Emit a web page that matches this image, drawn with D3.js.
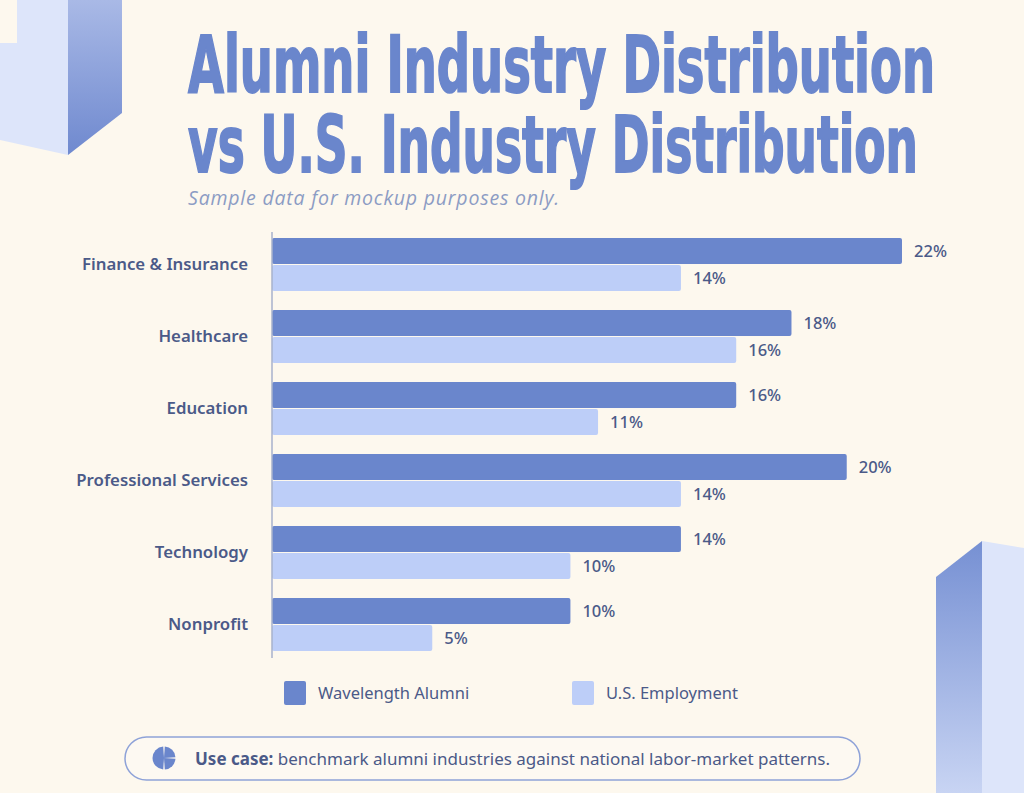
<!DOCTYPE html>
<html>
<head>
<meta charset="utf-8">
<script src="https://cdn.jsdelivr.net/npm/d3@7"></script>
<style>
  html, body { margin: 0; padding: 0; background: #fdf8ee; }
  svg { display: block; }
</style>
</head>
<body>
<svg id="chart" width="1024" height="793"></svg>
<script>
// chart values
var categories = ["Finance & Insurance", "Healthcare", "Education", "Professional Services", "Technology", "Nonprofit"];
var alumniValues = [22, 18, 16, 20, 14, 10];
var usValues = [14, 16, 11, 14, 10, 5];
var seriesNames = ["Wavelength Alumni", "U.S. Employment"];
var seriesKeys = ["alumni", "us"];

var darkBlue = "#6a86cc";
var lightBlue = "#bdcef8";
var labelColor = "#4b5a88";
var bg = "#fdf8ee";

var svg = d3.select("#chart");
var defs = svg.append("defs");

// gradients for the decorative blocks
var g1 = defs.append("linearGradient").attr("id", "sideTop").attr("x1", 0).attr("y1", 0).attr("x2", 0).attr("y2", 1);
g1.append("stop").attr("offset", "0%").attr("stop-color", "#a9b9e6");
g1.append("stop").attr("offset", "100%").attr("stop-color", "#6f89cf");
var g2 = defs.append("linearGradient").attr("id", "sideBottom").attr("x1", 0).attr("y1", 0).attr("x2", 0).attr("y2", 1);
g2.append("stop").attr("offset", "0%").attr("stop-color", "#7690d3");
g2.append("stop").attr("offset", "100%").attr("stop-color", "#c8d4f3");

// top-left block
svg.append("path").attr("d", "M0,0 L68,0 L68,155 L0,140 Z").attr("fill", "#dde5fa");
svg.append("path").attr("d", "M68,0 L122,0 L122,113 L68,155 Z").attr("fill", "url(#sideTop)");
svg.append("rect").attr("x", 0).attr("y", 0).attr("width", 17).attr("height", 43).attr("fill", bg);

// bottom-right block
svg.append("path").attr("d", "M936,577 L982,541 L982,793 L936,793 Z").attr("fill", "url(#sideBottom)");
svg.append("path").attr("d", "M982,541 L1024,548 L1024,793 L982,793 Z").attr("fill", "#dde5fa");

// title (condensed look: squeezed wide)
var titleLines = ["Alumni Industry Distribution", "vs U.S. Industry Distribution"];
var titleWidths = [747, 730];
svg.selectAll("text.title").data(titleLines).enter().append("text")
  .attr("class", "title")
  .attr("x", 188)
  .attr("y", function(d, i) { return 92 + i * 80; })
  .attr("textLength", function(d, i) { return titleWidths[i]; })
  .attr("lengthAdjust", "spacingAndGlyphs")
  .attr("font-family", "'Liberation Sans Narrow', 'DejaVu Sans Condensed', sans-serif")
  .attr("font-weight", "bold")
  .attr("font-size", 78)
  .attr("fill", darkBlue)
  .attr("stroke", darkBlue)
  .attr("stroke-width", 1.8)
  .text(function(d) { return d; });

svg.append("text")
  .attr("x", 188).attr("y", 205)
  .attr("font-family", "'Open Sans', sans-serif")
  .attr("font-style", "italic")
  .attr("font-size", 19.5)
  .attr("letter-spacing", 0.8)
  .attr("fill", "#8c9cc4")
  .text("Sample data for mockup purposes only.");

// scales (the mockup's bars start a little before zero)
var x0 = 272;
var x = d3.scaleLinear().domain([-0.8, 22]).range([x0, 902]);
var y = d3.scaleBand().domain(categories).range([238, 651]).paddingInner(0.264).paddingOuter(0);
var ySub = d3.scaleBand().domain(seriesKeys).range([0, y.bandwidth()]).paddingInner(0.04);
var color = d3.scaleOrdinal().domain(seriesKeys).range([darkBlue, lightBlue]);

var rows = categories.map(function(c, i) {
  return { cat: c, values: [{ key: "alumni", v: alumniValues[i] }, { key: "us", v: usValues[i] }] };
});

var groups = svg.selectAll("g.group").data(rows).enter().append("g")
  .attr("class", "group")
  .attr("transform", function(d) { return "translate(0," + y(d.cat) + ")"; });

groups.selectAll("rect").data(function(d) { return d.values; }).enter().append("rect")
  .attr("x", x0)
  .attr("y", function(d) { return ySub(d.key); })
  .attr("width", function(d) { return x(d.v) - x0; })
  .attr("height", ySub.bandwidth())
  .attr("rx", 2)
  .attr("fill", function(d) { return color(d.key); });

groups.selectAll("text.val").data(function(d) { return d.values; }).enter().append("text")
  .attr("class", "val")
  .attr("x", function(d) { return x(d.v) + 12; })
  .attr("y", function(d) { return ySub(d.key) + ySub.bandwidth() / 2; })
  .attr("dy", "0.35em")
  .attr("font-family", "'Noto Sans', sans-serif")
  .attr("font-weight", 500)
  .attr("font-size", 16.5)
  .attr("fill", labelColor)
  .text(function(d) { return d.v + "%"; });

// category axis
var yAxis = d3.axisLeft(y).tickSize(0).tickPadding(24);
var axisG = svg.append("g").attr("transform", "translate(" + x0 + ",0)").call(yAxis);
axisG.select(".domain").remove();
axisG.selectAll("text")
  .attr("font-family", "'Noto Sans', sans-serif")
  .attr("font-weight", 600)
  .attr("font-size", 16.8)
  .attr("fill", labelColor);
svg.append("line")
  .attr("x1", x0).attr("x2", x0).attr("y1", 232).attr("y2", 658)
  .attr("stroke", "#a7b2cc").attr("stroke-width", 1.5);

// legend
var legendX = [284, 572];
var legend = svg.selectAll("g.legend").data(seriesKeys).enter().append("g")
  .attr("class", "legend")
  .attr("transform", function(d, i) { return "translate(" + legendX[i] + ",681)"; });
legend.append("rect").attr("width", 22).attr("height", 24).attr("rx", 2)
  .attr("fill", function(d) { return color(d); });
legend.append("text")
  .attr("x", 34).attr("y", 12).attr("dy", "0.35em")
  .attr("font-family", "'Noto Sans', sans-serif")
  .attr("font-size", 16.5)
  .attr("fill", labelColor)
  .text(function(d, i) { return seriesNames[i]; });

// use case note
svg.append("rect")
  .attr("x", 125).attr("y", 737).attr("width", 735).attr("height", 43).attr("rx", 21.5)
  .attr("fill", "#fdf9f2").attr("stroke", "#8ea2d8").attr("stroke-width", 1.5);

// little pie icon: two right quarters and a left half
var pie = d3.pie().sort(null)([0.25, 0.25, 0.5]);
var arc = d3.arc().innerRadius(0).outerRadius(11.5).padAngle(0.14);
svg.append("g").attr("transform", "translate(164,758)")
  .selectAll("path").data(pie).enter().append("path")
  .attr("d", arc)
  .attr("fill", darkBlue);

var note = svg.append("text")
  .attr("x", 195).attr("y", 759).attr("dy", "0.35em")
  .attr("font-family", "'Noto Sans', sans-serif")
  .attr("font-size", 17)
  .attr("fill", labelColor);
note.append("tspan").attr("font-weight", 700).text("Use case:");
note.append("tspan").text(" benchmark alumni industries against national labor-market patterns.");
</script>
</body>
</html>
